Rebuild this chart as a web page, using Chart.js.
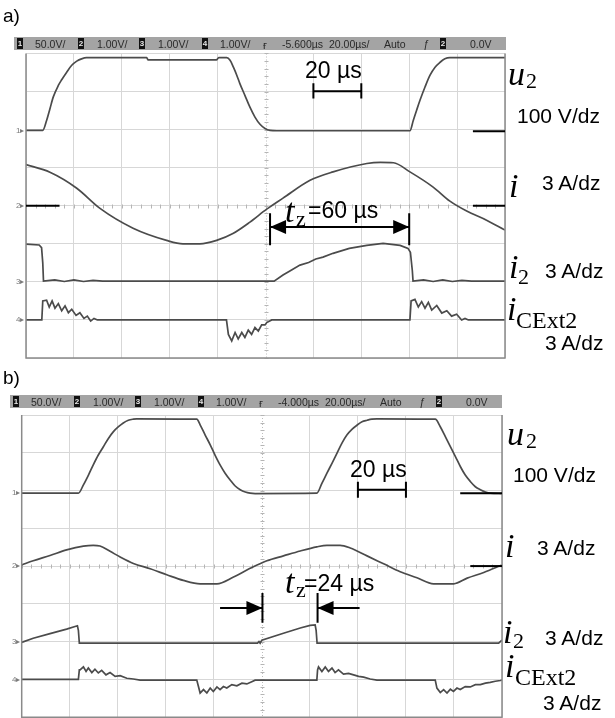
<!DOCTYPE html>
<html><head><meta charset="utf-8">
<script src="https://cdn.jsdelivr.net/npm/chart.js@4.4.1/dist/chart.umd.min.js"></script>
<style>
html,body{margin:0;padding:0;background:#fff;width:615px;height:718px;overflow:hidden;}
#wrap{position:relative;width:615px;height:718px;}
canvas{position:absolute;left:0;}
.t{position:absolute;white-space:nowrap;line-height:1;color:#000;}
.bar{position:absolute;background:#a4a4a4;}
.box{position:absolute;background:#111;color:#e8e8e8;font:bold 8px "Liberation Sans",Arial,sans-serif;text-align:center;line-height:11px;width:6px;height:11px;}
</style></head>
<body><div id="wrap">
<canvas id="ca" width="615" height="360" style="top:0px"></canvas>
<canvas id="cb" width="615" height="358" style="top:360px"></canvas>
</div>
<script>
// ---------- DATA (time in µs, value in screen divisions) ----------
// Panel a
const u2A = [[0,1.98],[7.0,1.98],[8.6,2.24],[10.0,2.55],[11.4,2.86],[13.5,3.16],[14.9,3.31],[17.0,3.51],[19.1,3.69],[21.2,3.80],[23.2,3.86],[25.3,3.89],[50.4,3.89],[51.0,3.83],[79.5,3.83],[80.5,3.89],[83.8,3.89],[85.2,3.82],[86.6,3.64],[88.0,3.43],[89.3,3.21],[91.4,2.90],[93.5,2.59],[95.6,2.33],[97.7,2.14],[99.8,2.03],[101.9,1.98],[104.7,1.97],[160.3,1.97],[161.7,2.24],[163.1,2.51],[164.5,2.77],[166.6,3.12],[168.7,3.43],[170.8,3.64],[172.9,3.77],[174.9,3.86],[177.0,3.89],[179.8,3.89],[200,3.89]];
const iA = [[0,1.08],[10.0,0.88],[21.2,0.46],[30.9,-0.07],[44.7,-0.59],[58.7,-0.91],[65.5,-1.0],[72.6,-1.0],[79.6,-0.91],[86.4,-0.73],[93.5,-0.43],[100.5,-0.09],[107.3,0.20],[118.6,0.67],[128.2,0.89],[142.3,1.11],[148.0,1.14],[153.4,1.13],[160.3,0.89],[170.0,0.49],[177.0,0.12],[184.0,-0.14],[192.3,-0.38],[200,-0.64]];
const i2A = [[0,-1.01],[5.5,-1.03],[6.5,-1.10],[7.0,-1.5],[7.3,-1.98],[12,-1.95],[16,-1.99],[20,-1.95],[24,-1.99],[28,-1.96],[32,-1.98],[103.6,-1.98],[107.3,-1.82],[110,-1.72],[114.4,-1.56],[118,-1.49],[121,-1.40],[124,-1.35],[128.2,-1.25],[135,-1.12],[142.3,-1.04],[149.1,-0.99],[156.2,-1.04],[159.5,-1.12],[160.5,-1.22],[161.3,-1.7],[161.6,-1.98],[166,-1.95],[170,-1.99],[174,-1.95],[178,-1.99],[182,-1.96],[186,-1.98],[200,-1.98]];
const iCExtA = [[0,-3.0],[6.6,-3.0],[7.0,-2.50],[8.6,-2.48],[9.7,-2.66],[10.9,-2.50],[12.1,-2.69],[13.5,-2.57],[14.9,-2.76],[16.3,-2.63],[17.7,-2.81],[19.1,-2.72],[20.9,-2.88],[22.5,-2.81],[24.2,-2.96],[25.6,-2.90],[27.0,-3.03],[28.4,-2.96],[29.8,-3.0],[83.7,-3.0],[84.5,-3.38],[85.9,-3.55],[87.3,-3.33],[88.6,-3.50],[90.1,-3.33],[91.4,-3.46],[92.8,-3.27],[94.2,-3.38],[95.6,-3.20],[97.0,-3.29],[98.4,-3.13],[99.8,-3.13],[100.5,-3.07],[102.6,-3.0],[160.3,-3.0],[160.8,-2.50],[162.4,-2.46],[163.8,-2.66],[165.2,-2.52],[166.6,-2.69],[168.0,-2.54],[169.4,-2.74],[171.5,-2.62],[173.6,-2.82],[175.7,-2.76],[177.7,-2.90],[179.8,-2.85],[181.9,-3.0],[183.3,-2.96],[184.7,-3.0],[200,-3.0]];
// Panel b
const u2B = [[0,1.93],[23.6,1.93],[25.7,2.15],[27.8,2.41],[29.8,2.68],[31.9,2.94],[34.0,3.16],[36.1,3.38],[38.2,3.56],[40.3,3.69],[42.3,3.79],[44.4,3.86],[46.5,3.89],[47.9,3.90],[72.9,3.89],[74.3,3.74],[76.4,3.47],[78.5,3.21],[80.5,2.94],[82.6,2.68],[84.7,2.46],[86.8,2.28],[88.9,2.12],[91.0,2.02],[93.1,1.96],[95.1,1.93],[97.2,1.92],[122.9,1.93],[125.0,2.19],[127.1,2.46],[129.2,2.72],[131.3,2.99],[133.3,3.25],[135.4,3.47],[137.5,3.62],[139.6,3.73],[141.7,3.82],[143.8,3.86],[145.8,3.89],[147.9,3.90],[172.2,3.89],[174.3,3.69],[176.4,3.43],[178.5,3.16],[180.6,2.90],[182.7,2.63],[184.7,2.41],[186.8,2.24],[188.9,2.10],[191.0,2.02],[193.1,1.96],[195.2,1.93],[200,1.92]];
const iB = [[0,0.03],[4.8,0.14],[11.8,0.28],[18.7,0.43],[25.7,0.53],[29.8,0.55],[32.6,0.53],[36.8,0.39],[41.0,0.24],[46.5,0.07],[53.5,-0.07],[60.4,-0.23],[67.3,-0.38],[74.3,-0.47],[81.3,-0.47],[88.2,-0.29],[95.1,-0.06],[102.1,0.14],[109.0,0.27],[116.0,0.40],[122.9,0.51],[127.1,0.55],[132.6,0.55],[136.8,0.48],[143.8,0.27],[150.7,0.06],[157.6,-0.15],[164.6,-0.31],[171.5,-0.47],[179.9,-0.47],[185.5,-0.32],[192.4,-0.17],[200,0.03]];
const i2B = [[0,-2.02],[4.8,-1.91],[11.8,-1.79],[18.7,-1.67],[22.2,-1.60],[23.2,-1.58],[23.6,-1.7],[24.0,-2.04],[98.2,-2.04],[98.8,-2.0],[99.3,-2.04],[100.0,-1.96],[109.0,-1.78],[116.0,-1.64],[120.1,-1.57],[122.2,-1.56],[122.6,-1.7],[123.0,-2.04],[198.6,-2.04],[200,-1.96]];
const iCExtB = [[0,-3.0],[23.6,-3.0],[24.0,-2.75],[24.3,-2.75],[25.7,-2.67],[26.8,-2.79],[27.75,-2.70],[29.2,-2.82],[30.5,-2.73],[31.9,-2.83],[33.3,-2.76],[35.1,-2.88],[36.8,-2.82],[38.9,-2.92],[41.0,-2.90],[43.75,-2.97],[46.5,-2.99],[49.3,-3.02],[72.9,-3.02],[73.6,-3.19],[74.3,-3.36],[75.7,-3.27],[77.1,-3.36],[78.5,-3.23],[79.8,-3.32],[81.3,-3.20],[82.6,-3.27],[84.0,-3.19],[85.4,-3.23],[87.5,-3.14],[89.6,-3.17],[91.7,-3.10],[93.75,-3.12],[95.8,-3.06],[97.2,-3.02],[122.9,-3.02],[123.2,-2.75],[123.6,-2.67],[125.0,-2.79],[126.4,-2.67],[127.75,-2.79],[129.2,-2.70],[130.5,-2.82],[131.9,-2.75],[134.0,-2.86],[136.1,-2.84],[138.2,-2.88],[140.3,-2.92],[142.4,-2.94],[145.1,-2.99],[147.9,-3.02],[172.2,-3.02],[172.9,-3.23],[174.3,-3.35],[175.7,-3.27],[177.1,-3.36],[178.5,-3.26],[179.8,-3.32],[181.25,-3.23],[182.6,-3.27],[184.7,-3.19],[186.8,-3.20],[188.9,-3.14],[191.0,-3.14],[193.1,-3.10],[195.1,-3.08],[197.2,-3.05],[199.3,-3.03],[200,-3.02]];

// Channel reference levels (divisions) for the left markers
const levelsA = [1.98, 0, -2, -3];
const levelsB = [1.93, 0, -2, -3];

// Annotation values (µs / divisions)
const refLinesA = [[0,14,0],[186.6,200,1.96],[186.6,200,0]];
const refLinesB = [[182.6,200,1.93],[186.8,200,0]];
const scaleBarA = {t:[120,140], v:3.01, tick:[3.22,2.82]};
const scaleBarB = {t:[140,160], v:2.02, tick:[2.23,1.81]};
const arrowA = {v:-0.556, ticks:[101.9,160], tickV:[-0.2,-1.04], segs:[[131,101.9],[131,160]]};
const arrowB = {v:-1.11, ticks:[100.25,123.2], tickV:[-0.71,-1.50], segs:[[82.6,100.25],[140.7,123.2]]};

// Texts
const headerA = ['50.0V/','1.00V/','1.00V/','1.00V/','-5.600µs','20.00µs/','Auto','0.0V'];
const headerB = ['50.0V/','1.00V/','1.00V/','1.00V/','-4.000µs','20.00µs/','Auto','0.0V'];
const seriesNames = ['u','i','i','i'];
const seriesSubs = ['2','','2','CExt2'];
const seriesScales = ['100 V/dz','3 A/dz','3 A/dz','3 A/dz'];
const scaleText = '20 µs';
const tzTextA = '=60 µs';
const tzTextB = '=24 µs';

// ---------- helpers ----------
const wrap = document.getElementById('wrap');
function txt(str, x, base, size, o) {
  o = o || {};
  const d = document.createElement('div');
  d.className = 't';
  d.textContent = str;
  d.style.left = x + 'px';
  d.style.top = (base - (o.serif ? 0.8375 : 0.8465) * size) + 'px';
  d.style.fontSize = size + 'px';
  d.style.fontFamily = o.serif ? '"Liberation Serif","Times New Roman",serif' : '"Liberation Sans",Arial,sans-serif';
  if (o.italic) d.style.fontStyle = 'italic';
  if (o.color) d.style.color = o.color;
  wrap.appendChild(d);
  return d;
}
function box(ch, x, y) {
  const d = document.createElement('div');
  d.className = 'box';
  d.textContent = ch;
  d.style.left = x + 'px'; d.style.top = y + 'px';
  wrap.appendChild(d);
}
function header(y, dx, texts) {
  const b = document.createElement('div');
  b.className = 'bar';
  b.style.left = (14 + dx) + 'px'; b.style.top = y + 'px';
  b.style.width = '492px'; b.style.height = '13px';
  wrap.appendChild(b);
  const base = y + 10.5, fs = 10.5, col = '#2a2a2a';
  box('1', 17 + dx, y + 1);  txt(texts[0], 35 + dx, base, fs, {color: col});
  box('2', 78 + dx, y + 1);  txt(texts[1], 97 + dx, base, fs, {color: col});
  box('3', 139 + dx, y + 1); txt(texts[2], 158 + dx, base, fs, {color: col});
  box('4', 202 + dx, y + 1); txt(texts[3], 220 + dx, base, fs, {color: col});
  txt('ғ', 263 + dx, base + 2, 11, {color: col});
  txt(texts[4], 282 + dx, base, fs, {color: col});
  txt(texts[5], 329 + dx, base, fs, {color: col});
  txt(texts[6], 384 + dx, base, fs, {color: col});
  txt('ƒ', 423 + dx, base, fs, {color: col, italic: true});
  box('2', 440 + dx, y + 1);
  txt(texts[7], 470 + dx, base, fs, {color: col});
}

function decor(spec) {
  return {
    id: 'decor',
    beforeDatasetsDraw(chart) {
      const c = chart.ctx, x = chart.scales.x, y = chart.scales.y, a = chart.chartArea;
      c.save();
      c.strokeStyle = '#bdbdbd'; c.lineWidth = 1; c.setLineDash([1, 2]);
      const cx = Math.round(x.getPixelForValue(100)) + 0.5;
      c.beginPath(); c.moveTo(cx, a.top); c.lineTo(cx, a.bottom); c.stroke();
      c.setLineDash([]);
      c.strokeStyle = '#b5b5b5';
      const cy = Math.round(y.getPixelForValue(0)) + 0.5;
      for (let t = 0; t <= 200; t += 4) {
        const px = Math.round(x.getPixelForValue(t)) + 0.5;
        c.beginPath(); c.moveTo(px, cy - 2); c.lineTo(px, cy + 2); c.stroke();
      }
      for (let v = -4; v <= 4.001; v += 0.2) {
        const py = Math.round(y.getPixelForValue(v)) + 0.5;
        c.beginPath(); c.moveTo(cx - 2, py); c.lineTo(cx + 2, py); c.stroke();
      }
      c.restore();
    },
    afterDatasetsDraw(chart) {
      const c = chart.ctx, x = chart.scales.x, y = chart.scales.y, a = chart.chartArea;
      const X = t => x.getPixelForValue(t), Y = v => y.getPixelForValue(v);
      c.save();
      c.strokeStyle = '#8a8a8a'; c.lineWidth = 1.5;
      c.beginPath(); c.moveTo(a.left, a.top); c.lineTo(a.left, a.bottom); c.lineTo(a.right, a.bottom); c.lineTo(a.right, a.top); c.stroke();
      c.strokeStyle = '#000'; c.lineWidth = 2;
      spec.refLines.forEach(r => { c.beginPath(); c.moveTo(X(r[0]), Y(r[2])); c.lineTo(X(r[1]), Y(r[2])); c.stroke(); });
      const sb = spec.scaleBar;
      c.beginPath(); c.moveTo(X(sb.t[0]), Y(sb.v)); c.lineTo(X(sb.t[1]), Y(sb.v));
      sb.t.forEach(t => { c.moveTo(X(t), Y(sb.tick[0])); c.lineTo(X(t), Y(sb.tick[1])); });
      c.stroke();
      const ar = spec.arrow;
      c.beginPath();
      ar.ticks.forEach(t => { c.moveTo(X(t), Y(ar.tickV[0])); c.lineTo(X(t), Y(ar.tickV[1])); });
      ar.segs.forEach(s => { c.moveTo(X(s[0]), Y(ar.v)); c.lineTo(X(s[1]), Y(ar.v)); });
      c.stroke();
      c.fillStyle = '#000';
      ar.segs.forEach(s => {
        const tip = X(s[1]), dir = Math.sign(X(s[1]) - X(s[0])), py = Y(ar.v);
        c.beginPath(); c.moveTo(tip, py); c.lineTo(tip - dir * 16, py - 7); c.lineTo(tip - dir * 16, py + 7); c.closePath(); c.fill();
      });
      c.restore();
    }
  };
}

function makeScope(id, canvasTop, canvasH, area, series, spec) {
  const pad = {left: area.left, top: area.top - canvasTop, right: 615 - area.right, bottom: canvasTop + canvasH - area.bottom};
  const ds = series.map(s => ({
    data: s.data.map(p => ({x: p[0], y: p[1]})),
    borderColor: '#4b4b4b', borderWidth: 1.7, pointRadius: 0,
    tension: s.smooth ? 0.4 : 0,
    cubicInterpolationMode: s.smooth ? 'monotone' : 'default',
    fill: false
  }));
  const chart = new Chart(document.getElementById(id), {
    type: 'line',
    data: {datasets: ds},
    options: {
      responsive: false, animation: false, devicePixelRatio: 1,
      parsing: false, normalized: true,
      layout: {padding: pad},
      plugins: {legend: {display: false}, tooltip: {enabled: false}},
      events: [],
      scales: {
        x: {type: 'linear', min: 0, max: 200,
            ticks: {display: false, stepSize: 20},
            grid: {color: ctx => (ctx.tick && ctx.tick.value === 100) ? 'rgba(0,0,0,0)' : '#d7d7d7', drawTicks: false, lineWidth: 1},
            border: {display: false}},
        y: {type: 'linear', min: -4, max: 4,
            ticks: {display: false, stepSize: 1},
            grid: {color: '#d7d7d7', drawTicks: false, lineWidth: 1},
            border: {display: false}}
      }
    },
    plugins: [decor(spec)]
  });
  const ca = chart.chartArea;
  pad.left += area.left - ca.left;
  pad.top += (area.top - canvasTop) - ca.top;
  pad.right += ca.right - area.right;
  pad.bottom += ca.bottom - (area.bottom - canvasTop);
  chart.options.layout.padding = pad;
  chart.update();
  return chart;
}

function channelMarks(chart, canvasTop, levels, left) {
  levels.forEach((lv, k) => {
    const py = chart.scales.y.getPixelForValue(lv) + canvasTop;
    txt(String(k + 1) + '▸', left, py + 3, 8, {color: '#7a7a7a'});
  });
}

function rightLabels(rows) {
  rows.forEach(r => {
    txt(r.name, r.x, r.b, 34, {serif: true, italic: true});
    if (r.sub) txt(r.sub, r.sx, r.sb, r.ss || 22, {serif: true});
    txt(r.scale, r.kx, r.kb, 21);
  });
}

// ---------- panel a ----------
txt('a)', 3, 22, 19);
header(37, 0, headerA);
const areaA = {left: 26, top: 53.5, right: 505, bottom: 358};
const chA = makeScope('ca', 0, 360, areaA, [
  {data: u2A, smooth: true}, {data: iA, smooth: true}, {data: i2A}, {data: iCExtA}
], {refLines: refLinesA, scaleBar: scaleBarA, arrow: arrowA});
channelMarks(chA, 0, levelsA, 16);
rightLabels([
  {name: seriesNames[0], x: 508, b: 85,  sub: seriesSubs[0], sx: 526, sb: 88,  scale: seriesScales[0], kx: 517, kb: 123},
  {name: seriesNames[1], x: 509, b: 197, sub: '',            sx: 0,   sb: 0,   scale: seriesScales[1], kx: 542, kb: 190},
  {name: seriesNames[2], x: 509, b: 278, sub: seriesSubs[2], sx: 518, sb: 284, scale: seriesScales[2], kx: 545, kb: 278},
  {name: seriesNames[3], x: 507, b: 320, sub: seriesSubs[3], sx: 516, sb: 328, ss: 24, scale: seriesScales[3], kx: 545, kb: 350}
]);
txt(scaleText, 305, 78, 23);
txt('t', 285, 222, 34, {serif: true, italic: true});
txt('z', 296, 226, 22, {serif: true});
txt(tzTextA, 308, 218, 23);

// ---------- panel b ----------
txt('b)', 3, 384, 19);
header(395, -4, headerB);
const areaB = {left: 21.7, top: 415, right: 502, bottom: 717.8};
const chB = makeScope('cb', 360, 358, areaB, [
  {data: u2B, smooth: true}, {data: iB, smooth: true}, {data: i2B}, {data: iCExtB}
], {refLines: refLinesB, scaleBar: scaleBarB, arrow: arrowB});
channelMarks(chB, 360, levelsB, 12);
rightLabels([
  {name: seriesNames[0], x: 507, b: 445, sub: seriesSubs[0], sx: 526, sb: 448, scale: seriesScales[0], kx: 513, kb: 482},
  {name: seriesNames[1], x: 505, b: 557, sub: '',            sx: 0,   sb: 0,   scale: seriesScales[1], kx: 537, kb: 555},
  {name: seriesNames[2], x: 503, b: 643, sub: seriesSubs[2], sx: 513, sb: 648, scale: seriesScales[2], kx: 545, kb: 645},
  {name: seriesNames[3], x: 505, b: 677, sub: seriesSubs[3], sx: 515, sb: 685, ss: 24, scale: seriesScales[3], kx: 543, kb: 710}
]);
txt(scaleText, 350, 477, 23);
txt('t', 285, 593, 34, {serif: true, italic: true});
txt('z', 296, 597, 22, {serif: true});
txt(tzTextB, 304, 591, 23);
</script>
</body></html>
